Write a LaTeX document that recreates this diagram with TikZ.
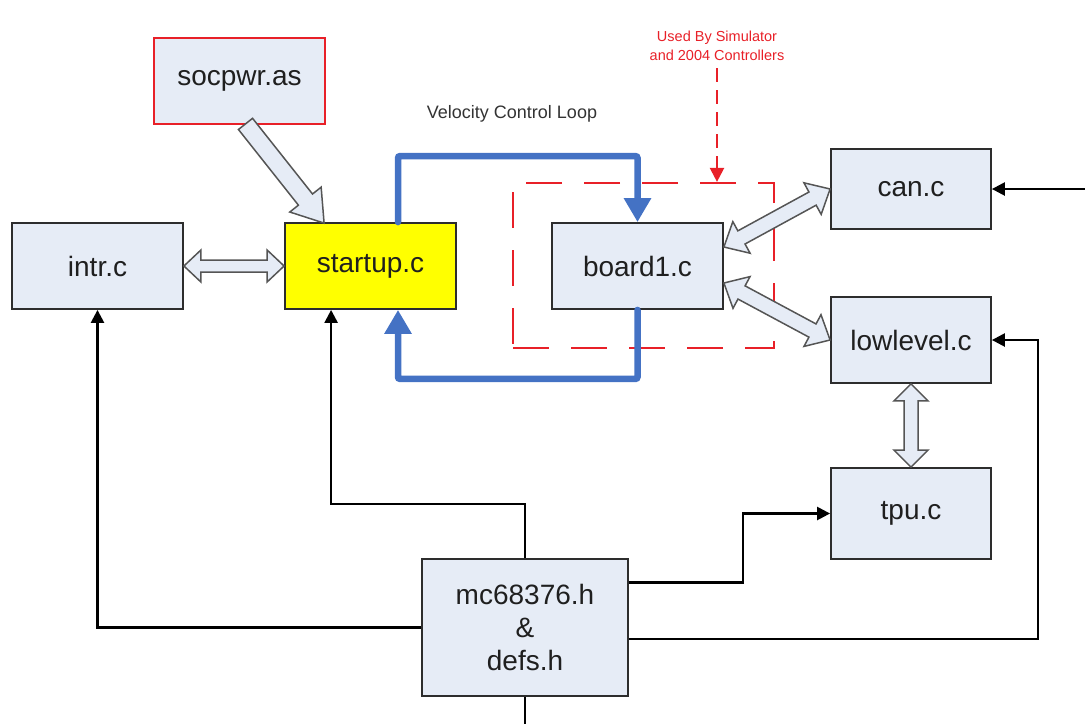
\documentclass[tikz,border=0pt]{standalone}
\usepackage{fontspec}
\setmainfont{Liberation Sans}
\usetikzlibrary{arrows.meta,calc}

\definecolor{boxfill}{RGB}{230,236,246}
\definecolor{boxline}{RGB}{45,45,45}
\definecolor{loopblue}{RGB}{68,114,196}
\definecolor{notered}{RGB}{232,32,40}
\definecolor{arrowline}{RGB}{85,85,85}
\definecolor{startyellow}{RGB}{255,255,0}

% hollow two-headed block arrow: from, to, shaft half-width, head half-width, head length
\newcommand\twowayarrow[5]{%
  \filldraw[blockarrow] (#1)
    -- ($(#1)!#5!(#2)!#4!90:(#2)$) -- ($(#1)!#5!(#2)!#3!90:(#2)$)
    -- ($(#2)!#5!(#1)!#3!-90:(#1)$) -- ($(#2)!#5!(#1)!#4!-90:(#1)$)
    -- (#2)
    -- ($(#2)!#5!(#1)!#4!90:(#1)$) -- ($(#2)!#5!(#1)!#3!90:(#1)$)
    -- ($(#1)!#5!(#2)!#3!-90:(#2)$) -- ($(#1)!#5!(#2)!#4!-90:(#2)$)
    -- cycle;}
% hollow one-headed block arrow: from, to, shaft half-width, head half-width, head length
\newcommand\onewayarrow[5]{%
  \filldraw[blockarrow] ($(#1)!#3!90:(#2)$)
    -- ($(#2)!#5!(#1)!#3!-90:(#1)$) -- ($(#2)!#5!(#1)!#4!-90:(#1)$)
    -- (#2)
    -- ($(#2)!#5!(#1)!#4!90:(#1)$) -- ($(#2)!#5!(#1)!#3!90:(#1)$)
    -- ($(#1)!#3!-90:(#2)$) -- cycle;}

\tikzset{
  module/.style={draw=boxline, line width=1.8pt, fill=boxfill, inner sep=0pt,
    font=\fontsize{28}{33}\selectfont, text=black!88, align=center},
  blockarrow/.style={draw=arrowline, line width=1.5pt, fill=boxfill, line join=miter},
  feed/.style={draw=black, line width=2.4pt, -{Triangle[width=13pt 0 0,length=13pt 0 0]}},
  plainfeed/.style={draw=black, line width=2.4pt},
  loopline/.style={draw=loopblue, line width=6.5pt, line cap=round, rounded corners=2pt,
    -{Triangle[width=26pt 0 0,length=24pt 0 0]}},
  zone/.style={draw=notered, line width=2.2pt, dash pattern=on 36pt off 22pt, inner sep=0pt},
  redtext/.style={text=notered, font=\fontsize{14.5}{19}\selectfont, align=center},
  captext/.style={text=black!80, font=\fontsize{18}{22}\selectfont}
}

\begin{document}
\begin{tikzpicture}[x=1pt, y=-1pt]
\useasboundingbox (0,0) rectangle (1085,724);

% simulator / 2004 controller region
\node[zone, minimum width=261pt, minimum height=165pt] (zone) at (643.5,265.5) {};

% modules
\node[module, draw=notered, minimum width=171pt, minimum height=86pt] (socpwr) at (239.5,81) {socpwr.as};
\node[module, minimum width=171pt, minimum height=86pt] (intr) at (97.5,266) {intr.c};
\node[module, fill=startyellow, minimum width=171pt, minimum height=86pt] (startup) at (370.5,266) {startup.c};
\node[module, minimum width=171pt, minimum height=86pt] (board1) at (637.5,266) {board1.c};
\node[module, minimum width=160pt, minimum height=80pt] (can) at (911,189) {can.c};
\node[module, minimum width=160pt, minimum height=86pt] (lowlevel) at (911,340) {lowlevel.c};
\node[module, minimum width=160pt, minimum height=91pt] (tpu) at (911,513.5) {tpu.c};
\node[module, minimum width=206pt, minimum height=137pt] (mc) at (525,627.5) {mc68376.h\\\&\\defs.h};

% labels
\node[captext] (vcl) at (512,114) {Velocity Control Loop};
\node[redtext] (note) at (717,46) {Used By Simulator\\and 2004 Controllers};
\draw[notered, line width=2.2pt, dash pattern=on 14pt off 8pt,
      -{Triangle[width=14pt 0 0,length=14pt 0 0]}] ([yshift=-4pt]note.south) -- ([xshift=73.5pt]zone.north);

% velocity control loop
\draw[loopline] ([xshift=27.5pt]startup.north) -- ++(0,-66) -| (board1.north);
\draw[loopline] (board1.south) -- ++(0,69) -| ([xshift=27.5pt]startup.south);

% block arrows between modules
\coordinate (socA) at ([xshift=6pt,yshift=1pt]socpwr.south);
\coordinate (socB) at ([xshift=40pt,yshift=-1pt]startup.north west);
\onewayarrow{socA}{socB}{9pt}{20pt}{30pt}
\twowayarrow{intr.east}{startup.west}{6pt}{16pt}{17pt}
\coordinate (bcA) at ([yshift=19pt]board1.east);
\coordinate (blA) at ([yshift=-17pt]board1.east);
\twowayarrow{bcA}{can.west}{7.5pt}{18pt}{20pt}
\twowayarrow{blA}{lowlevel.west}{7.5pt}{18pt}{20pt}
\twowayarrow{lowlevel.south}{tpu.north}{7pt}{17pt}{17pt}

% header dependencies
\coordinate (canfeed) at (1085,189);
\coordinate (mcdown) at (525,724);
\draw[feed] (canfeed) -- (can.east);
\draw[feed] (mc.west) -| (intr.south);
\draw[feed] (mc.north) -- ++(0,-54) -| ([xshift=47pt]startup.south west);
\draw[feed] ([yshift=45pt]mc.east) -- ++(114,0) |- (tpu.west);
\draw[feed] ([yshift=-11.5pt]mc.east) -- ++(409,0) |- (lowlevel.east);
\draw[plainfeed] (mc.south) -- (mcdown);
\end{tikzpicture}
\end{document}
